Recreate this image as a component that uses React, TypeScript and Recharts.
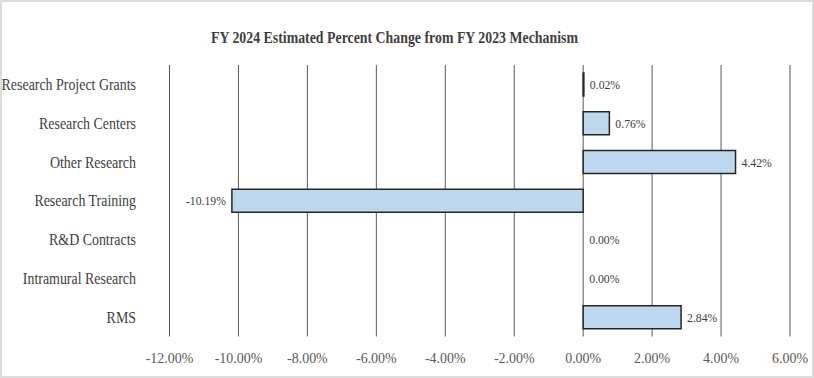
import React from 'react';
import { BarChart, Bar, XAxis, YAxis, CartesianGrid, Rectangle } from 'recharts';

const categories = [
  'Research Project Grants',
  'Research Centers',
  'Other Research',
  'Research Training',
  'R&D Contracts',
  'Intramural Research',
  'RMS'
];
// percent change, FY 2023 -> FY 2024
const changes = [0.02, 0.76, 4.42, -10.19, 0.0, 0.0, 2.84];
const xTicks = [-12, -10, -8, -6, -4, -2, 0, 2, 4, 6];

const data = categories.map((name, i) => ({ name, value: changes[i] }));

const FONT = '"Liberation Serif", "Times New Roman", serif';
const pct = (v: number) => `${v.toFixed(2)}%`;

const CategoryTick = (props: any) => {
  const { x, y, payload } = props;
  return (
    <text
      transform={`translate(${x - 33.5},${y}) scale(0.87,1)`}
      textAnchor="end"
      dy="0.35em"
      fontSize={16}
      fontFamily={FONT}
      fill="#404040"
    >
      {payload.value}
    </text>
  );
};

const PercentTick = (props: any) => {
  const { x, y, payload } = props;
  return (
    <text
      transform={`translate(${x},${y + 21.5}) scale(0.93,1)`}
      textAnchor="middle"
      dy="0.35em"
      fontSize={15}
      fontFamily={FONT}
      fill="#595959"
    >
      {pct(payload.value)}
    </text>
  );
};

// bar + its value label together, so zero-valued rows still get "0.00%"
const BarWithLabel = (props: any) => {
  const { x, y, width, height, value, fill, stroke, strokeWidth } = props;
  const v = Array.isArray(value) ? value[1] - value[0] : value;
  const left = Math.min(x, x + width);
  const right = Math.max(x, x + width);
  const neg = v < 0;
  const tx = neg ? left - 6 : right + 6;
  return (
    <g>
      {Math.abs(width) > 0 && (
        <Rectangle
          x={left}
          y={y}
          width={right - left}
          height={height}
          fill={fill}
          stroke={stroke}
          strokeWidth={strokeWidth}
        />
      )}
      <text
        transform={`translate(${tx},${y + height / 2}) scale(0.9,1)`}
        textAnchor={neg ? 'end' : 'start'}
        dy="0.35em"
        fontSize={13}
        fontFamily={FONT}
        fill="#404040"
      >
        {pct(v)}
      </text>
    </g>
  );
};

export default function App() {
  return (
    <div style={{ position: 'relative', width: 814, height: 378, background: '#fff' }}>
      <style>{'body{margin:0}'}</style>
      <svg width={814} height={60} style={{ position: 'absolute', top: 0, left: 0 }}>
        <text
          transform="translate(211,43.3) scale(0.815,1)"
          fontSize={17}
          fontWeight="bold"
          fontFamily={FONT}
          fill="#404040"
        >
          FY 2024 Estimated Percent Change from FY 2023 Mechanism
        </text>
      </svg>
      <BarChart
        width={814}
        height={378}
        data={data}
        layout="vertical"
        margin={{ top: 65, right: 24, left: 19.5, bottom: 11.5 }}
        style={{ position: 'absolute', top: 0, left: 0 }}
      >
        <CartesianGrid horizontal={false} stroke="#595959" />
        <XAxis
          type="number"
          domain={[-12, 6]}
          ticks={xTicks}
          height={30}
          axisLine={false}
          tickLine={false}
          tickSize={0}
          tickMargin={0}
          tick={<PercentTick />}
          interval={0}
        />
        <YAxis
          type="category"
          dataKey="name"
          width={150}
          axisLine={false}
          tickLine={false}
          tickSize={0}
          tickMargin={0}
          tick={<CategoryTick />}
          interval={0}
        />
        <Bar
          dataKey="value"
          fill="#BDD7EE"
          stroke="#262626"
          strokeWidth={1.5}
          barSize={23}
          shape={<BarWithLabel />}
          isAnimationActive={false}
        />
      </BarChart>
      <div
        style={{
          position: 'absolute',
          inset: 0,
          border: '2px solid #dcdcdc',
          pointerEvents: 'none'
        }}
      />
    </div>
  );
}
